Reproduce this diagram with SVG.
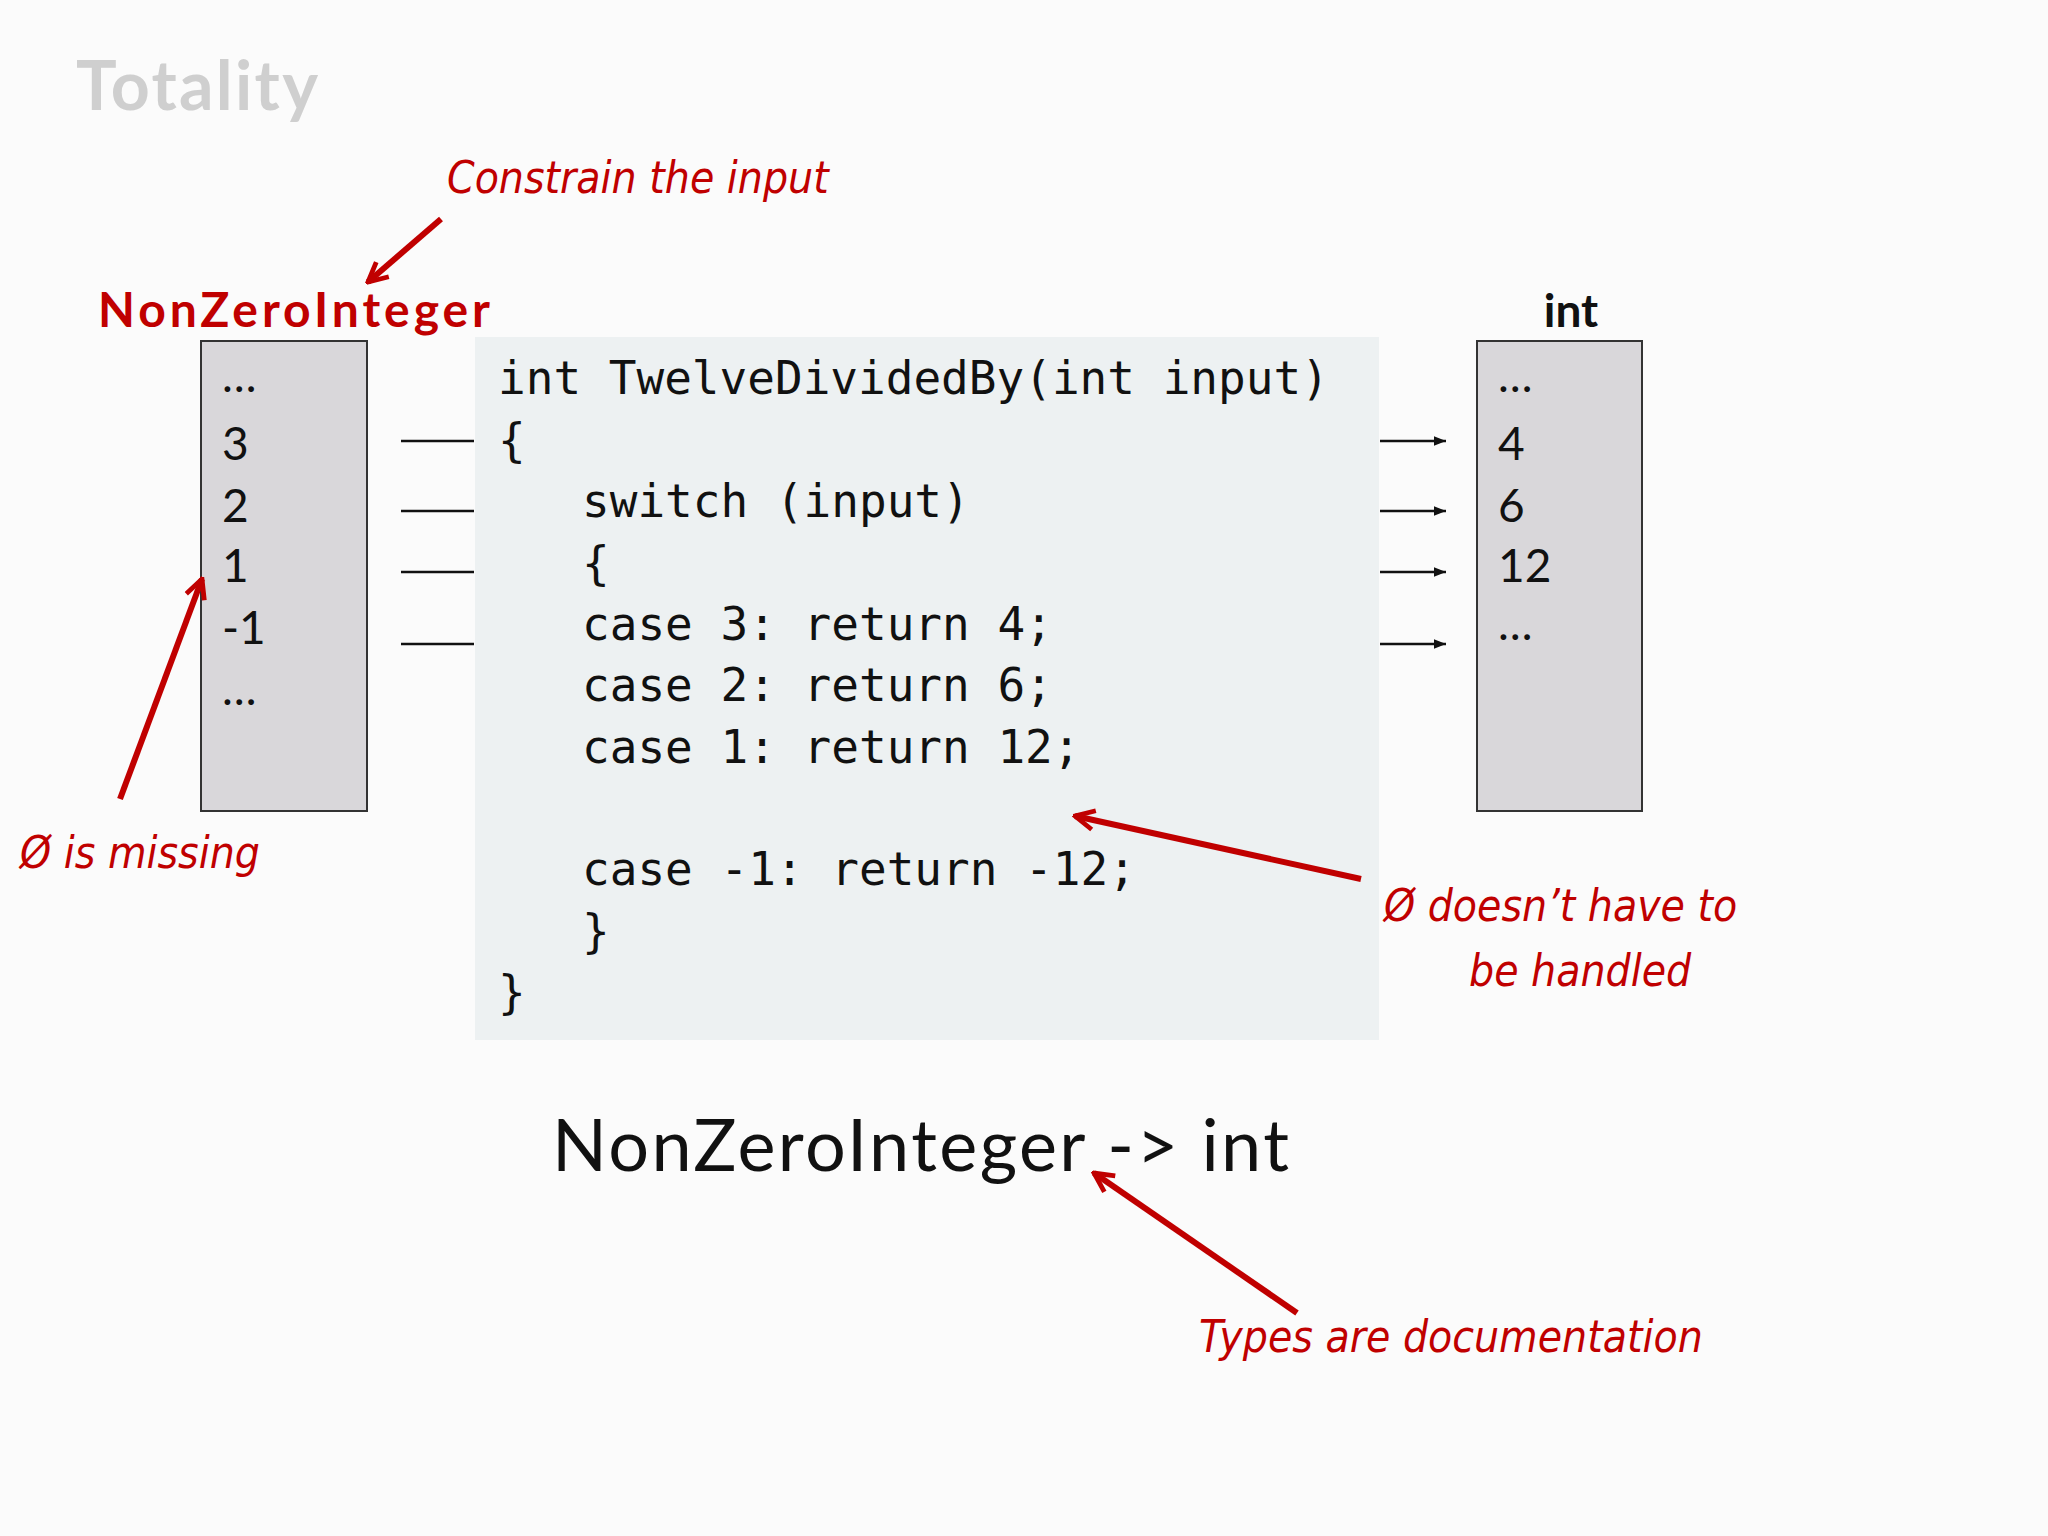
<svg xmlns="http://www.w3.org/2000/svg" width="2048" height="1536" viewBox="0 0 2048 1536">
<defs>
<style>
.hand{font-family:"DejaVu Sans Condensed","DejaVu Sans",sans-serif;font-style:italic;fill:#c00000;font-size:44px}
.val{font-family:"Lato","Liberation Sans",sans-serif;font-size:46px;fill:#111}
.code{font-family:"DejaVu Sans Mono","Liberation Mono",monospace;font-size:46px;fill:#111}
.box{fill:#d9d7da;stroke:#333;stroke-width:2}
.ln{stroke:#111;stroke-width:2.5}
.red{stroke:#c00000;stroke-width:6;fill:none}
</style>
<marker id="ah" viewBox="0 0 10 10" refX="9" refY="5" markerWidth="4" markerHeight="4" orient="auto"><path d="M1,1 L9,5 L1,9" fill="none" stroke="#c00000" stroke-width="2"/></marker>
<marker id="bh" viewBox="0 0 10 10" refX="10" refY="5" markerWidth="5" markerHeight="5" orient="auto"><path d="M0,1 L10,5 L0,9 Z" fill="#111"/></marker>
</defs>
<rect width="2048" height="1536" fill="#fbfbfb"/>
<text x="76" y="110" font-family="Lato,'Liberation Sans',sans-serif" font-weight="bold" font-size="68" fill="#cfcfcf" textLength="242">Totality</text>
<g id="leftset">
<text x="98" y="327" font-family="Lato,'Liberation Sans',sans-serif" font-weight="bold" font-size="48" fill="#c00000" textLength="392">NonZeroInteger</text>
<rect class="box" x="201" y="341" width="166" height="470"/>
<text class="val" x="222" y="392">…</text><text class="val" x="222" y="460">3</text><text class="val" x="222" y="522">2</text><text class="val" x="222" y="582">1</text><text class="val" x="222" y="644">-1</text><text class="val" x="222" y="705">…</text>
</g>
<g id="code">
<rect x="475" y="337" width="904" height="703" fill="#edf1f2"/>
<text class="code" x="498" y="394">int TwelveDividedBy(int input)</text>
<text class="code" x="498" y="456">{</text>
<text class="code" x="582" y="517">switch (input)</text>
<text class="code" x="582" y="579">{</text>
<text class="code" x="582" y="640">case 3: return 4;</text>
<text class="code" x="582" y="701">case 2: return 6;</text>
<text class="code" x="582" y="763">case 1: return 12;</text>
<text class="code" x="582" y="885">case -1: return -12;</text>
<text class="code" x="582" y="947">}</text>
<text class="code" x="498" y="1008">}</text>
</g>
<g id="rightset">
<text x="1571" y="327" text-anchor="middle" font-family="Lato,'Liberation Sans',sans-serif" font-weight="bold" font-size="46" fill="#111">int</text>
<rect class="box" x="1477" y="341" width="165" height="470"/>
<text class="val" x="1498" y="392">…</text><text class="val" x="1498" y="460">4</text><text class="val" x="1498" y="522">6</text><text class="val" x="1498" y="582">12</text><text class="val" x="1498" y="640">…</text>
</g>
<g id="connectors">
<line class="ln" x1="401" y1="441" x2="474" y2="441"/><line class="ln" x1="401" y1="511" x2="474" y2="511"/><line class="ln" x1="401" y1="572" x2="474" y2="572"/><line class="ln" x1="401" y1="644" x2="474" y2="644"/>
<line class="ln" x1="1380" y1="441" x2="1446" y2="441" marker-end="url(#bh)"/><line class="ln" x1="1380" y1="511" x2="1446" y2="511" marker-end="url(#bh)"/><line class="ln" x1="1380" y1="572" x2="1446" y2="572" marker-end="url(#bh)"/><line class="ln" x1="1380" y1="644" x2="1446" y2="644" marker-end="url(#bh)"/>
<line class="red" x1="441" y1="219" x2="368" y2="282" marker-end="url(#ah)"/>
<line class="red" x1="120" y1="799" x2="202" y2="579" marker-end="url(#ah)"/>
<line class="red" x1="1361" y1="879" x2="1075" y2="816" marker-end="url(#ah)"/>
<line class="red" x1="1297" y1="1313" x2="1094" y2="1173" marker-end="url(#ah)"/>
</g>
<text class="hand" x="447" y="193">Constrain the input</text>
<text class="hand" x="20" y="868">Ø is missing</text>
<text class="hand" x="1384" y="921">Ø doesn’t have to</text>
<text class="hand" x="1469" y="986">be handled</text>
<text class="hand" x="1199" y="1352">Types are documentation</text>
<text x="552" y="1171" font-family="Lato,'Liberation Sans',sans-serif" font-size="72" fill="#111" textLength="737">NonZeroInteger -&gt; int</text>
</svg>
